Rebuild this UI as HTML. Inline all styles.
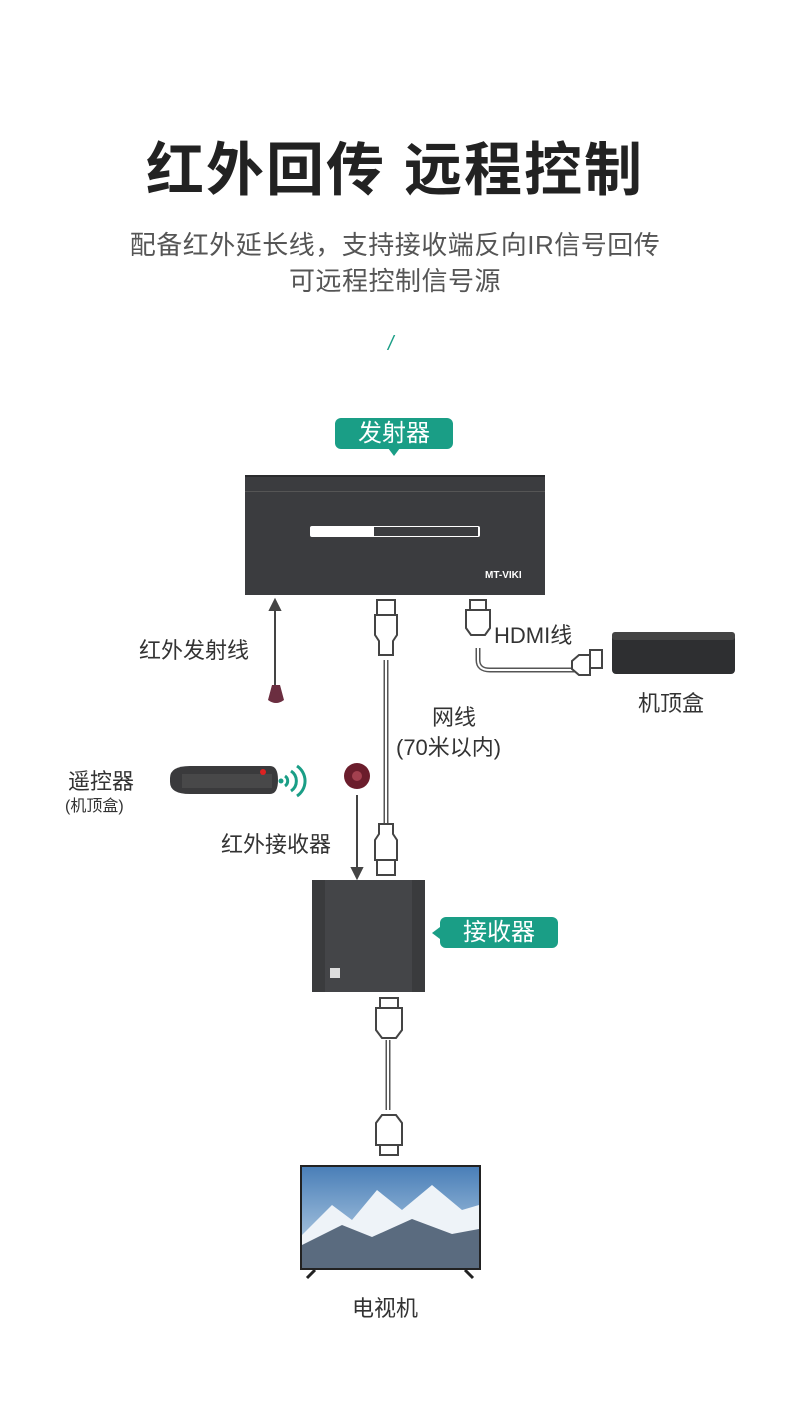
<!DOCTYPE html>
<html><head><meta charset="utf-8"><style>
body{margin:0;width:790px;height:1404px;background:#fff;position:relative;overflow:hidden;font-family:"Liberation Sans","Noto Sans CJK SC",sans-serif;color:#333}
.a{position:absolute;white-space:nowrap}
.bub{position:absolute;background:#1a9e86;color:#fff;font-size:24px;text-align:center;border-radius:6px}
</style></head><body>
<div class="a" style="left:0;width:790px;top:123px;text-align:center;font-size:58px;font-weight:bold;color:#222;letter-spacing:2px">红外回传 远程控制</div>
<div class="a" style="left:0;width:790px;top:227px;text-align:center;font-size:26px;color:#555;line-height:36px;letter-spacing:0.5px">配备红外延长线，支持接收端反向IR信号回传<br>可远程控制信号源</div>
<div class="a" style="left:388px;top:333px;font-size:20px;color:#1a9e86;font-style:italic">/</div>

<div class="bub" style="left:335px;top:418px;width:118px;height:31px;line-height:31px">发射器</div>
<div class="a" style="left:388px;top:448px;width:0;height:0;border-left:6px solid transparent;border-right:6px solid transparent;border-top:8px solid #1a9e86"></div>

<div class="a" style="left:245px;top:475px;width:300px;height:118px;background:#3b3c3f;border-top:2px solid #2a2b2d"></div>
<div class="a" style="left:245px;top:491px;width:300px;height:1px;background:#555"></div>
<div class="a" style="left:310px;top:526px;width:170px;height:11px;background:#fff;border-radius:2px"></div>
<div class="a" style="left:374px;top:527px;width:104px;height:9px;background:#3b3c3f"></div>
<div class="a" style="left:485px;top:570px;font-size:10px;color:#fff;font-weight:bold">MT-VIKI</div>

<svg class="a" style="left:0;top:0" width="790" height="1404">
<g stroke="#444" stroke-width="2" fill="none">
<line x1="275" y1="606" x2="275" y2="685"/>
<polygon points="270,610 280,610 275,600" fill="#444"/>
<line x1="357" y1="795" x2="357" y2="872"/>
<polygon points="352,868 362,868 357,878" fill="#444"/>
</g>
<g stroke="#555" stroke-width="5" fill="none"><line x1="386" y1="660" x2="386" y2="830"/>
<path d="M478,648 V660 Q478,670 490,670 H580"/>
<line x1="388" y1="1040" x2="388" y2="1110"/></g>
<g stroke="#fff" stroke-width="2" fill="none"><line x1="386" y1="660" x2="386" y2="830"/><path d="M478,648 V660 Q478,670 490,670 H580"/><line x1="388" y1="1040" x2="388" y2="1110"/></g>
<g stroke="#444" stroke-width="2" fill="#fff">
<rect x="377" y="600" width="18" height="15"/><path d="M375,615 h22 v20 l-4,6 v14 h-14 v-14 l-4,-6z"/>
<rect x="377" y="860" width="18" height="15"/><path d="M375,860 h22 v-20 l-4,-6 v-10 h-14 v10 l-4,6z"/>
<rect x="470" y="600" width="16" height="10"/><path d="M466,610 h24 v18 l-5,7 h-14 l-5,-7z"/>
<rect x="590" y="650" width="12" height="18"/><path d="M572,661 l7,-6 h11 v20 h-11 l-7,-6z"/>
<rect x="380" y="998" width="18" height="10"/><path d="M376,1008 h26 v22 l-6,8 h-14 l-6,-8z"/>
<rect x="380" y="1145" width="18" height="10"/><path d="M376,1145 h26 v-22 l-6,-8 h-14 l-6,8z"/>
</g>
<path d="M268,700 l4,-15 h8 l4,15 q-8,6 -16,0z" fill="#6b2e40"/>
<circle cx="357" cy="776" r="13" fill="#6b1d2c"/><circle cx="357" cy="776" r="5" fill="#a3404f"/>
<path d="M285,776 a6,6 0 0 1 0,10 M291,771 a12,12 0 0 1 0,20 M297,766 a18,18 0 0 1 0,30" stroke="#1a9e86" stroke-width="3" fill="none"/>
<circle cx="281" cy="781" r="2.5" fill="#1a9e86"/>
<path d="M170,778 q0,-12 20,-12 h80 q8,0 8,14 q0,14 -8,14 h-80 q-20,0 -20,-12z" fill="#3a3a3c"/>
<rect x="182" y="774" width="90" height="14" fill="#555" opacity=".5"/>
<circle cx="263" cy="772" r="3" fill="#d22"/>
<rect x="612" y="634" width="123" height="40" rx="4" fill="#2e2f31"/>
<rect x="612" y="632" width="123" height="8" rx="3" fill="#444"/>
<rect x="312" y="880" width="113" height="112" fill="#3a3b3d"/>
<rect x="325" y="880" width="87" height="112" fill="#444548"/>
<rect x="330" y="968" width="10" height="10" fill="#ddd"/>
<defs><linearGradient id="sk" x1="0" y1="0" x2="0" y2="1"><stop offset="0" stop-color="#4a7fb8"/><stop offset="1" stop-color="#c7dbeb"/></linearGradient></defs>
<rect x="300" y="1165" width="181" height="105" fill="#222"/>
<rect x="302" y="1167" width="177" height="101" fill="url(#sk)"/>
<path d="M302,1235 l30,-30 l20,15 l25,-30 l25,20 l30,-25 l30,25 l17,-5 v63 h-177z" fill="#eef3f8"/>
<path d="M302,1245 l40,-20 l30,12 l40,-18 l40,15 l27,-5 v39 h-177z" fill="#5a6b7f"/>
<path d="M315,1270 l-8,8 M465,1270 l8,8" stroke="#222" stroke-width="3"/>
</svg>

<div class="a" style="left:139px;top:633px;font-size:22px">红外发射线</div>
<div class="a" style="left:494px;top:618px;font-size:22px">HDMI线</div>
<div class="a" style="left:638px;top:686px;font-size:22px">机顶盒</div>
<div class="a" style="left:432px;top:700px;font-size:22px">网线</div>
<div class="a" style="left:396px;top:730px;font-size:22px">(70米以内)</div>
<div class="a" style="left:68px;top:764px;font-size:22px">遥控器</div>
<div class="a" style="left:65px;top:792px;font-size:16px">(机顶盒)</div>
<div class="a" style="left:221px;top:827px;font-size:22px">红外接收器</div>
<div class="bub" style="left:440px;top:917px;width:118px;height:31px;line-height:31px">接收器</div>
<div class="a" style="left:432px;top:927px;width:0;height:0;border-top:6px solid transparent;border-bottom:6px solid transparent;border-right:8px solid #1a9e86"></div>
<div class="a" style="left:352px;top:1291px;font-size:22px">电视机</div>
</body></html>
